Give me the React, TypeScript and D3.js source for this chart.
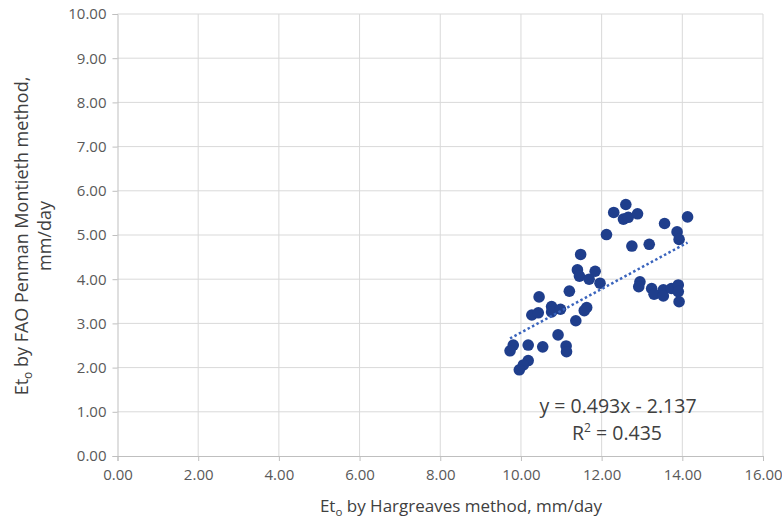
import React, { useEffect, useRef } from 'react';
import * as d3 from 'd3';

// Hargreaves (x) vs FAO Penman Monteith (y), mm/day
const hargreaves = [
  12.30, 12.60, 12.54, 12.66, 12.89, 13.56, 14.13, 13.87, 13.92, 12.12,
  12.75, 13.18, 11.48, 11.40, 11.45, 11.84, 11.69, 11.96, 12.95, 12.92,
  13.24, 13.30, 13.53, 13.53, 13.73, 13.90, 13.90, 13.92, 10.45, 11.20,
  10.27, 10.43, 10.76, 10.76, 10.98, 11.63, 11.57, 11.36, 10.92, 10.18,
  10.54, 11.12, 11.13, 9.81, 9.73, 10.18, 10.06, 9.96,
];
const penmanMonteith = [
  5.51, 5.69, 5.36, 5.40, 5.48, 5.26, 5.41, 5.07, 4.90, 5.01,
  4.75, 4.79, 4.56, 4.21, 4.07, 4.18, 4.00, 3.91, 3.94, 3.83,
  3.79, 3.66, 3.76, 3.62, 3.79, 3.87, 3.72, 3.49, 3.60, 3.73,
  3.19, 3.24, 3.38, 3.26, 3.32, 3.36, 3.29, 3.06, 2.74, 2.51,
  2.47, 2.49, 2.36, 2.51, 2.38, 2.16, 2.06, 1.95,
];
const xTicks = [0, 2, 4, 6, 8, 10, 12, 14, 16];
const yTicks = [0, 1, 2, 3, 4, 5, 6, 7, 8, 9, 10];
const slope = 0.493;
const intercept = -2.137;
const equationText = 'y = 0.493x - 2.137';
const r2Value = '0.435';

const W = 782;
const H = 521;
const margin = { top: 14, right: 19, bottom: 65, left: 117.5 };

const App = () => {
  const ref = useRef<SVGSVGElement>(null);

  useEffect(() => {
    const svg = d3.select(ref.current);
    svg.selectAll('*').remove();

    const font = "'Open Sans', 'Noto Sans', sans-serif";
    const x = d3.scaleLinear().domain([0, 16]).range([margin.left, W - margin.right]);
    const y = d3.scaleLinear().domain([0, 10]).range([H - margin.bottom, margin.top]);

    svg.append('rect').attr('width', W).attr('height', H).attr('fill', '#fff');

    // gridlines
    svg.append('g')
      .selectAll('line')
      .data(xTicks.slice(1))
      .enter().append('line')
      .attr('x1', d => x(d)).attr('x2', d => x(d))
      .attr('y1', y(0)).attr('y2', y(10))
      .attr('stroke', '#d9d9d9').attr('stroke-width', 1);
    svg.append('g')
      .selectAll('line')
      .data(yTicks.slice(1))
      .enter().append('line')
      .attr('x1', x(0)).attr('x2', x(16))
      .attr('y1', d => y(d)).attr('y2', d => y(d))
      .attr('stroke', '#d9d9d9').attr('stroke-width', 1);

    // X axis
    const xAxis = svg.append('g')
      .attr('transform', `translate(0,${y(0)})`)
      .call(d3.axisBottom(x).tickValues(xTicks).tickFormat(d3.format('.2f')).tickSize(5).tickPadding(8));
    // Y axis
    const yAxis = svg.append('g')
      .attr('transform', `translate(${x(0)},0)`)
      .call(d3.axisLeft(y).tickValues(yTicks).tickFormat(d3.format('.2f')).tickSize(5).tickPadding(6));

    [xAxis, yAxis].forEach(a => {
      a.select('.domain').attr('stroke', '#bfbfbf');
      a.selectAll('.tick line').attr('stroke', '#bfbfbf');
      a.selectAll('.tick text')
        .attr('fill', '#595959')
        .attr('font-family', font)
        .attr('font-size', 15);
    });

    // points
    const pts = hargreaves.map((h, i) => ({ h, p: penmanMonteith[i] }));
    svg.append('g')
      .selectAll('circle')
      .data(pts)
      .enter().append('circle')
      .attr('cx', d => x(d.h))
      .attr('cy', d => y(d.p))
      .attr('r', 5.8)
      .attr('fill', '#1f3e8c');

    // linear trendline
    const [xMin, xMax] = d3.extent(hargreaves) as [number, number];
    svg.append('path')
      .datum([xMin, xMax])
      .attr('fill', 'none')
      .attr('stroke', '#3a64bd')
      .attr('stroke-width', 2.5)
      .attr('stroke-dasharray', '2.5,2.5')
      .attr('d', d3.line<number>()
        .x(d => x(d))
        .y(d => y(slope * d + intercept)));

    // equation
    svg.append('text')
      .attr('x', 618).attr('y', 413)
      .attr('text-anchor', 'middle')
      .attr('font-family', font).attr('font-size', 19.5)
      .attr('fill', '#404040')
      .text(equationText);
    const r2 = svg.append('text')
      .attr('x', 617).attr('y', 440)
      .attr('text-anchor', 'middle')
      .attr('font-family', font).attr('font-size', 19.5)
      .attr('fill', '#404040');
    r2.append('tspan').text('R');
    r2.append('tspan').attr('font-size', 12).attr('dy', -8).text('2');
    r2.append('tspan').attr('dy', 8).text(` = ${r2Value}`);

    // axis titles
    const xt = svg.append('text')
      .attr('x', 461).attr('y', 512)
      .attr('text-anchor', 'middle')
      .attr('font-family', font).attr('font-size', 17)
      .attr('fill', '#404040');
    xt.append('tspan').text('Et');
    xt.append('tspan').attr('font-size', 11.5).attr('dy', 4).text('o');
    xt.append('tspan').attr('dy', -4).text(' by Hargreaves method, mm/day');

    const yt = svg.append('g')
      .attr('transform', `translate(0,236) rotate(-90)`)
      .attr('font-family', font).attr('font-size', 18)
      .attr('fill', '#404040')
      .attr('text-anchor', 'middle');
    const l1 = yt.append('text').attr('x', 0).attr('y', 28);
    l1.append('tspan').text('Et');
    l1.append('tspan').attr('font-size', 12).attr('dy', 4).text('o');
    l1.append('tspan').attr('dy', -4).text(' by FAO Penman Montieth method,');
    yt.append('text').attr('x', 0).attr('y', 51).text('mm/day');
  }, []);

  return (
    <svg ref={ref} width={W} height={H}
      style={{ position: 'absolute', left: 0, top: 0, display: 'block' }} />
  );
};

export default App;
